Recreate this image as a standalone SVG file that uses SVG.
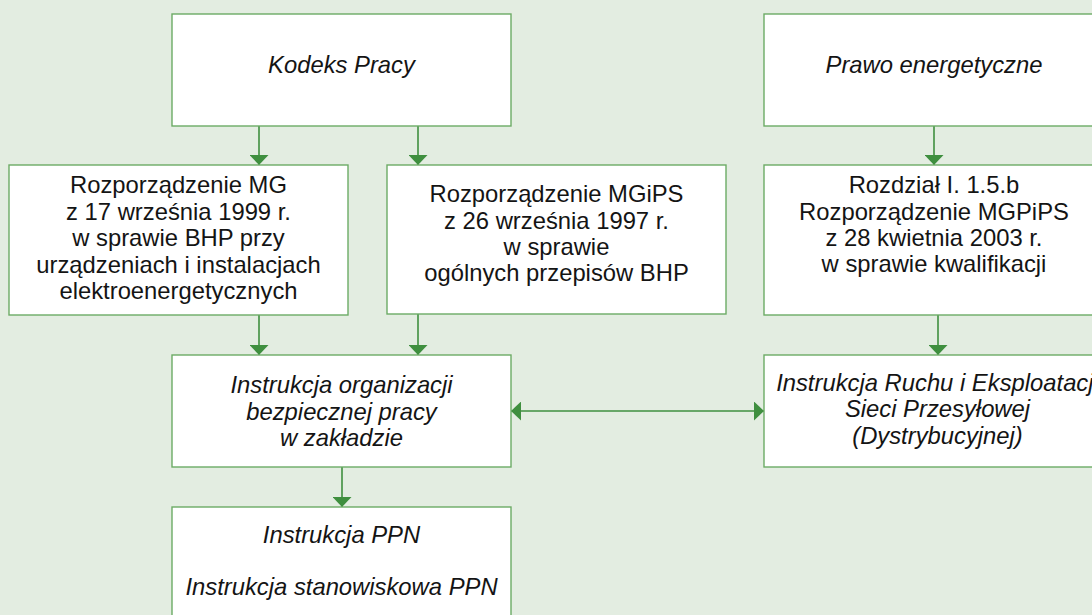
<svg xmlns="http://www.w3.org/2000/svg" width="1092" height="615" viewBox="0 0 1092 615">
<style>
.bg{fill:#e3ede1}
.box{fill:#ffffff;stroke:#6cab65;stroke-width:1.4}
.t{font-family:"Liberation Sans",Arial,Helvetica,sans-serif;font-size:23.8px;fill:#141414;text-anchor:middle}
.i{font-style:italic}
.c{stroke:#3f8f3f;stroke-width:1.6;fill:none}
</style>
<defs>
<marker id="ah" viewBox="0 0 10 19" refX="10" refY="9.5" markerWidth="10" markerHeight="19" markerUnits="userSpaceOnUse" orient="auto-start-reverse">
<path d="M0,0 L10,9.5 L0,19 Z" fill="#3f8f3f"/>
</marker>
</defs>
<rect class="bg" x="0" y="0" width="1092" height="615"/>
<g id="connectors">
<line class="c" x1="259" y1="126" x2="259" y2="165" marker-end="url(#ah)"/>
<line class="c" x1="418" y1="126" x2="418" y2="165" marker-end="url(#ah)"/>
<line class="c" x1="934" y1="126" x2="934" y2="165" marker-end="url(#ah)"/>
<line class="c" x1="259" y1="315" x2="259" y2="355" marker-end="url(#ah)"/>
<line class="c" x1="418" y1="314" x2="418" y2="355" marker-end="url(#ah)"/>
<line class="c" x1="938" y1="315" x2="938" y2="355" marker-end="url(#ah)"/>
<line class="c" x1="342" y1="467" x2="342" y2="507" marker-end="url(#ah)"/>
<line class="c" x1="511" y1="411" x2="764" y2="411" marker-start="url(#ah)" marker-end="url(#ah)"/>
</g>
<g id="kodeks">
<rect class="box" x="172" y="14" width="339" height="112"/>
<text class="t i" x="341.5" y="73">Kodeks Pracy</text>
</g>
<g id="prawo">
<rect class="box" x="764" y="14" width="340" height="112"/>
<text class="t i" x="934" y="73">Prawo energetyczne</text>
</g>
<g id="rozp-mg">
<rect class="box" x="9" y="165" width="339" height="150"/>
<text class="t" x="178.5" y="193">Rozporządzenie MG</text>
<text class="t" x="178.5" y="219.5">z 17 września 1999 r.</text>
<text class="t" x="178.5" y="246">w sprawie BHP przy</text>
<text class="t" x="178.5" y="272.5">urządzeniach i instalacjach</text>
<text class="t" x="178.5" y="299">elektroenergetycznych</text>
</g>
<g id="rozp-mgips">
<rect class="box" x="387" y="165" width="339" height="149"/>
<text class="t" x="556.5" y="202.3">Rozporządzenie MGiPS</text>
<text class="t" x="556.5" y="228.5">z 26 września 1997 r.</text>
<text class="t" x="556.5" y="254.8">w sprawie</text>
<text class="t" x="556.5" y="281">ogólnych przepisów BHP</text>
</g>
<g id="rozdzial">
<rect class="box" x="764" y="165" width="340" height="150"/>
<text class="t" x="934" y="193.3">Rozdział I. 1.5.b</text>
<text class="t" x="934" y="219.5">Rozporządzenie MGPiPS</text>
<text class="t" x="934" y="245.6">z 28 kwietnia 2003 r.</text>
<text class="t" x="934" y="271.7">w sprawie kwalifikacji</text>
</g>
<g id="instr-org">
<rect class="box" x="172" y="355" width="339" height="112"/>
<text class="t i" x="341.5" y="393.3">Instrukcja organizacji</text>
<text class="t i" x="341.5" y="419.5">bezpiecznej pracy</text>
<text class="t i" x="341.5" y="445.7">w zakładzie</text>
</g>
<g id="instr-ruchu">
<rect class="box" x="764" y="355" width="346" height="112"/>
<text class="t i" x="937.5" y="391">Instrukcja Ruchu i Eksploatacji</text>
<text class="t i" x="937.5" y="417.3">Sieci Przesyłowej</text>
<text class="t i" x="937.5" y="443.6">(Dystrybucyjnej)</text>
</g>
<g id="instr-ppn">
<rect class="box" x="172" y="507" width="339" height="130"/>
<text class="t i" x="341.5" y="542.7">Instrukcja PPN</text>
<text class="t i" x="341.5" y="595">Instrukcja stanowiskowa PPN</text>
</g>
</svg>
